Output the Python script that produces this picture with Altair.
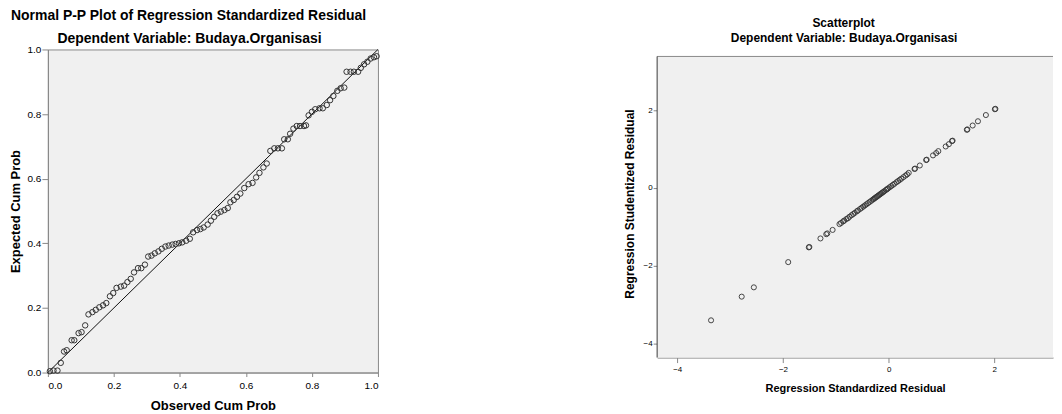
import altair as alt
import pandas as pd

# ---------------- data ----------------
pp_observed = [
    0.006, 0.017, 0.029, 0.039, 0.049, 0.057, 0.072, 0.080, 0.093, 0.102,
    0.113, 0.123, 0.135, 0.145, 0.156, 0.167, 0.177, 0.188, 0.198, 0.208,
    0.221, 0.231, 0.241, 0.251, 0.261, 0.273, 0.283, 0.294, 0.304, 0.314,
    0.324, 0.335, 0.345, 0.356, 0.366, 0.377, 0.387, 0.397, 0.407, 0.419,
    0.430, 0.440, 0.452, 0.462, 0.472, 0.484, 0.494, 0.504, 0.514, 0.524,
    0.535, 0.545,
    0.553, 0.563, 0.573, 0.583, 0.595, 0.608, 0.620, 0.631, 0.641, 0.653,
    0.663, 0.674, 0.686, 0.697, 0.709, 0.716, 0.727, 0.734, 0.744, 0.754,
    0.764, 0.776, 0.782, 0.790, 0.800, 0.810, 0.823, 0.833, 0.845, 0.855,
    0.865, 0.877, 0.887, 0.898, 0.905, 0.917, 0.927, 0.940, 0.948, 0.958,
    0.968, 0.978, 0.988, 0.996,
]
pp_expected = [
    0.004, 0.006, 0.006, 0.030, 0.065, 0.069, 0.100, 0.100, 0.122, 0.125,
    0.146, 0.180, 0.187, 0.194, 0.202, 0.208, 0.215, 0.236, 0.246, 0.262,
    0.266, 0.269, 0.280, 0.290, 0.310, 0.323, 0.323, 0.334, 0.359, 0.362,
    0.369, 0.375, 0.383, 0.390, 0.393, 0.396, 0.398, 0.400, 0.403, 0.408,
    0.414, 0.434, 0.441, 0.444, 0.449, 0.458, 0.470, 0.482, 0.493, 0.498,
    0.503, 0.509,
    0.527, 0.534, 0.544, 0.554, 0.571, 0.583, 0.587, 0.604, 0.618, 0.635,
    0.647, 0.686, 0.694, 0.694, 0.694, 0.722, 0.722, 0.739, 0.755, 0.763,
    0.763, 0.763, 0.765, 0.796, 0.807, 0.815, 0.818, 0.818, 0.828, 0.843,
    0.856, 0.872, 0.880, 0.882, 0.931, 0.931, 0.931, 0.931, 0.943, 0.954,
    0.962, 0.972, 0.976, 0.979,
]
diag_x = [0.0, 1.0]
diag_y = [0.0, 1.0]

std_resid = [
    -3.36, -2.78, -2.55, -1.90, -1.51, -1.50, -1.29, -1.18, -1.16, -1.06,
    -0.93, -0.90, -0.86, -0.84, -0.80, -0.77, -0.74, -0.70, -0.67, -0.64,
    -0.60, -0.58, -0.54, -0.51, -0.48, -0.45, -0.42, -0.39, -0.36, -0.33,
    -0.30, -0.28, -0.26, -0.24, -0.22, -0.20, -0.18, -0.16, -0.14, -0.12,
    -0.10, -0.08, -0.05, -0.03, -0.01, 0.02, 0.05, 0.08, 0.11, 0.15,
    0.18, 0.21, 0.24, 0.28, 0.32, 0.35, 0.38,
    0.49, 0.50, 0.59, 0.71, 0.72, 0.84, 0.90, 0.94, 1.08, 1.14,
    1.20, 1.21, 1.48, 1.49, 1.59, 1.69, 1.84, 2.01, 2.02,
]
stud_resid = [
    -3.41, -2.80, -2.56, -1.91, -1.53, -1.52, -1.30, -1.19, -1.17, -1.08,
    -0.93, -0.90, -0.86, -0.84, -0.80, -0.78, -0.74, -0.70, -0.67, -0.64,
    -0.60, -0.58, -0.54, -0.51, -0.48, -0.45, -0.42, -0.39, -0.36, -0.33,
    -0.30, -0.28, -0.26, -0.24, -0.22, -0.20, -0.18, -0.16, -0.14, -0.12,
    -0.10, -0.08, -0.05, -0.03, -0.01, 0.02, 0.05, 0.08, 0.11, 0.15,
    0.18, 0.21, 0.24, 0.28, 0.32, 0.35, 0.39,
    0.49, 0.50, 0.58, 0.72, 0.73, 0.84, 0.90, 0.95, 1.07, 1.13,
    1.21, 1.22, 1.50, 1.51, 1.61, 1.72, 1.88, 2.03, 2.04,
]

pp_ticks = [0.0, 0.2, 0.4, 0.6, 0.8, 1.0]
sc_ticks = [-4, -2, 0, 2]

main_title = "Normal P-P Plot of Regression Standardized Residual"
dep_title = "Dependent Variable: Budaya.Organisasi"
scatter_title = "Scatterplot"

# ---------------- styling ----------------
FONT = "Liberation Sans"
BG = "#f0f0f0"
FRAME = "#8a8a8a"
AXIS = "#3a3a3a"
PT = "#333333"

pp_df = pd.DataFrame({"obs": pp_observed, "exp": pp_expected})
diag_df = pd.DataFrame({"obs": diag_x, "exp": diag_y})
sc_df = pd.DataFrame({"std": std_resid, "stud": stud_resid})
one = pd.DataFrame({"k": [0]})

LW, LH = 331, 324
RW, RH = 397, 309
RTOP = 7  # scatter frame starts this far below the shared row top

# ---------------- left: Normal P-P plot ----------------
x_pp = alt.X(
    "obs:Q",
    scale=alt.Scale(domain=[0, 1], nice=False, zero=False),
    axis=alt.Axis(values=pp_ticks, format=".1f", title="Observed Cum Prob",
                  labelFontSize=10, tickSize=4, labelPadding=4, titlePadding=9,
                  titleFontSize=13, grid=False),
)
y_pp = alt.Y(
    "exp:Q",
    scale=alt.Scale(domain=[0, 1], nice=False, zero=False),
    axis=alt.Axis(values=pp_ticks, format=".1f", title="Expected Cum Prob",
                  labelFontSize=10, tickSize=6, labelPadding=1, titlePadding=5,
                  titleFontSize=13, grid=False),
)

pp_points = alt.Chart(pp_df).mark_point(
    shape="circle", filled=False, size=30, color=PT, strokeWidth=1, opacity=1
).encode(x=x_pp, y=y_pp)

pp_line = alt.Chart(diag_df).mark_line(color="#111111", strokeWidth=1).encode(
    x="obs:Q", y="exp:Q"
)

pp_main = alt.Chart(one).mark_text(
    text=main_title, font=FONT, fontSize=14, fontWeight="bold",
    align="left", baseline="alphabetic", color="#000000"
).encode(x=alt.value(-37), y=alt.value(-29.2))

pp_dep = alt.Chart(one).mark_text(
    text=dep_title, font=FONT, fontSize=14, fontWeight="bold",
    align="center", baseline="alphabetic", color="#000000"
).encode(x=alt.value(142), y=alt.value(-6))

left = alt.layer(pp_line, pp_points, pp_main, pp_dep).properties(
    width=LW, height=LH,
    view=alt.ViewBackground(fill=BG, stroke=FRAME, strokeWidth=1),
)

# ---------------- right: scatterplot ----------------
x_sc = alt.X(
    "std:Q",
    scale=alt.Scale(domain=[-4.38, 3.11], nice=False, zero=False),
    axis=alt.Axis(values=sc_ticks, format="d", title="Regression Standardized Residual",
                  labelFontSize=8, tickSize=5, labelPadding=3, titlePadding=9,
                  titleFontSize=11, grid=False),
)
y_sc = alt.Y(
    "stud:Q",
    scale=alt.Scale(domain=[-4.37, 3.57], nice=False, zero=False),
    axis=alt.Axis(values=sc_ticks, format="d", title="Regression Studentized Residual",
                  labelFontSize=8, tickSize=4, labelPadding=1, titlePadding=7,
                  titleFontSize=12, grid=False, domain=False),
)

sc_bg = alt.Chart(one).mark_rect(color=BG).encode(
    x=alt.value(0), x2=alt.value(RW), y=alt.value(RTOP), y2=alt.value(RH)
)

sc_points = alt.Chart(sc_df).mark_point(
    shape="circle", filled=False, size=26, color=PT, strokeWidth=1, opacity=0.9
).encode(x=x_sc, y=y_sc)

sc_top = alt.Chart(one).mark_rule(color=FRAME, strokeWidth=1).encode(
    x=alt.value(0), x2=alt.value(RW), y=alt.value(RTOP)
)
sc_left = alt.Chart(one).mark_rule(color=AXIS, strokeWidth=1).encode(
    x=alt.value(0), y=alt.value(RTOP), y2=alt.value(RH)
)

sc_title = alt.Chart(one).mark_text(
    text=scatter_title, font=FONT, fontSize=12, fontWeight="bold",
    align="center", baseline="alphabetic", color="#000000"
).encode(x=alt.value(187), y=alt.value(-22.5))

sc_dep = alt.Chart(one).mark_text(
    text=dep_title, font=FONT, fontSize=12, fontWeight="bold",
    align="center", baseline="alphabetic", color="#000000"
).encode(x=alt.value(187.5), y=alt.value(-7.5))

right = alt.layer(sc_bg, sc_top, sc_left, sc_points, sc_title, sc_dep).properties(
    width=RW, height=RH,
    view=alt.ViewBackground(fill="transparent", stroke="transparent", strokeWidth=0),
)

chart = alt.hconcat(left, right, spacing=241).properties(
    padding={"left": 0, "top": 0, "right": 0, "bottom": 0}
).configure_axis(
    labelFont=FONT, titleFont=FONT, labelColor="#222222", titleColor="#000000",
    titleFontWeight="bold", domainColor=AXIS, tickColor=AXIS, domainWidth=1,
    tickWidth=1, grid=False,
).configure(background="white")

chart.save("out.html", embed_options={"renderer": "svg", "actions": False})
